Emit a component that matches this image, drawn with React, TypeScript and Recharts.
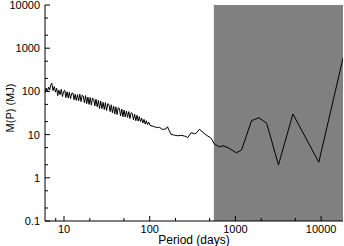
import React from 'react';
import { LineChart, Line, XAxis, YAxis, ReferenceArea } from 'recharts';

// period (days) and M(P)
const periods = [
  6, 6.2, 6.4, 6.6, 6.8, 7.0, 7.2, 7.45, 7.7, 7.95,
  8.2, 8.45, 8.7, 9.0, 9.3, 9.6, 9.9, 10.2, 10.5, 10.85,
  11.2, 11.55, 11.9, 12.3, 12.7, 13.1, 13.5, 13.9, 14.35, 14.8,
  15.3, 15.8, 16.3, 16.8, 17.3, 17.85, 18.4, 19.0, 19.6, 20.2,
  20.85, 21.5, 22.2, 22.9, 23.6, 24.4, 25.2, 26.0, 26.8, 27.7,
  28.6, 29.5, 30.4, 31.4, 32.4, 33.4, 34.5, 35.6, 36.7, 37.9,
  39.1, 40.3, 41.6, 42.9, 44.3, 45.7, 47.2, 48.7, 50.2, 51.8,
  53.5, 55.2, 57.0, 58.8, 60.7, 62.6, 64.6, 66.7, 68.8, 71.0,
  73.3, 75.6, 78.0, 80.5, 83.1, 85.8, 88.5, 91.3, 94.2, 97.2,
  100.3,
  110, 123, 130, 140, 154, 161, 177, 190, 212, 230, 253, 265, 278, 304, 332, 348, 380, 417, 456, 522,
  570, 653, 716, 820, 940, 1028, 1178, 1543, 1880, 2316, 3178, 4688, 9398, 18000,
];
const masses = [
  92, 120, 98, 126, 108, 140, 155, 104, 130, 96,
  118, 80, 108, 84, 112, 76, 100, 106, 72, 98,
  70, 96, 68, 90, 92, 64, 86, 62, 84, 60,
  86, 58, 82, 78, 54, 80, 52, 74, 50, 72,
  48, 70, 66, 46, 66, 44, 62, 40, 60, 40,
  56, 38, 55, 36, 52, 50, 34, 49, 32, 46,
  30, 44, 29, 42, 40, 27, 39, 26, 37, 25.5,
  35, 25, 34, 23.5, 32, 31, 22, 29.5, 21, 28,
  20.5, 26, 20, 24, 18.5, 22.5, 17.5, 21, 17, 19.5,
  16.5,
  15.5, 14.5, 14.8, 13.2, 13.5, 15.2, 10.2, 9.8, 9.4, 9.6, 9.3, 9.0, 8.5, 11.1, 10.5, 10.7, 13.3, 11.3, 9.8, 8.2,
  6.0, 5.2, 5.5, 5.0, 4.2, 3.8, 4.4, 21, 24.6, 18.3, 1.98, 30, 2.29, 593,
];

const xMajor = [10, 100, 1000, 10000];
const xMinor = [8, 20, 50, 200, 500, 2000, 5000];
const yMajor = [0.1, 1, 10, 100, 1000, 10000];
const yMinor = [0.2, 0.5, 2, 5, 20, 50, 200, 500, 2000, 5000];

const shadeStart = 560;

const data = periods.map((p, i) => ({ p, m: masses[i] }));
const font = { fontFamily: '"Liberation Sans", Arial, sans-serif', fontSize: 11, fill: '#000' };

function BottomTick({ x, y, payload }: any) {
  const major = xMajor.includes(payload.value);
  return (
    <g>
      <line x1={x} x2={x} y1={y} y2={y - (major ? 5 : 3)} stroke="#000" />
      {major && <text x={x} y={y + 12} textAnchor="middle" {...font}>{payload.value}</text>}
    </g>
  );
}

function TopTick({ x, y, payload }: any) {
  const major = xMajor.includes(payload.value);
  return <line x1={x} x2={x} y1={y} y2={y + (major ? 5 : 3)} stroke="#000" />;
}

function LeftTick({ x, y, payload }: any) {
  const major = yMajor.includes(payload.value);
  return (
    <g>
      <line x1={x} x2={x + (major ? 5 : 3)} y1={y} y2={y} stroke="#000" />
      {major && <text x={x - 5} y={y + 4} textAnchor="end" {...font}>{payload.value}</text>}
    </g>
  );
}

function RightTick({ x, y, payload }: any) {
  const major = yMajor.includes(payload.value);
  return <line x1={x} x2={x - (major ? 5 : 3)} y1={y} y2={y} stroke="#000" />;
}

export default function App() {
  return (
    <div style={{ width: 344, height: 246 }}>
      <style>{`body{margin:0}`}</style>
      <LineChart width={344} height={246} data={data} margin={{ top: 5, right: 1, bottom: 0, left: 0 }}>
        <XAxis
          dataKey="p" type="number" scale="log" domain={[6, 18000]} allowDataOverflow
          ticks={[...xMajor, ...xMinor]} interval={0} tickSize={0} tickMargin={0} tick={<BottomTick />}
          axisLine={{ stroke: '#000' }} height={25}
          label={{ value: 'Period (days)', position: 'insideBottom', offset: 2, style: { ...font, fontSize: 12 } }}
        />
        <XAxis
          xAxisId="top" orientation="top" dataKey="p" type="number" scale="log" domain={[6, 18000]}
          allowDataOverflow ticks={[...xMajor, ...xMinor]} interval={0} tickSize={0} tickMargin={0} tick={<TopTick />}
          axisLine={{ stroke: '#000' }} height={0}
        />
        <YAxis
          type="number" scale="log" domain={[0.1, 10000]} allowDataOverflow
          ticks={[...yMajor, ...yMinor]} interval={0} tickSize={0} tickMargin={0} tick={<LeftTick />}
          axisLine={{ stroke: '#000' }} width={45}
          label={{ value: 'M(P) (MJ)', angle: -90, position: 'center', dx: -12, dy: -5, style: { ...font, fontSize: 11 } }}
        />
        <YAxis
          yAxisId="right" orientation="right" type="number" scale="log" domain={[0.1, 10000]} allowDataOverflow
          ticks={[...yMajor, ...yMinor]} interval={0} tickSize={0} tickMargin={0} tick={<RightTick />}
          axisLine={{ stroke: '#000' }} width={0}
        />
        <ReferenceArea x1={shadeStart} x2={18000} fill="#808080" fillOpacity={1} stroke="none" ifOverflow="hidden" />
        <Line dataKey="m" stroke="#000" strokeWidth={1} dot={false} isAnimationActive={false} type="linear" />
      </LineChart>
    </div>
  );
}
